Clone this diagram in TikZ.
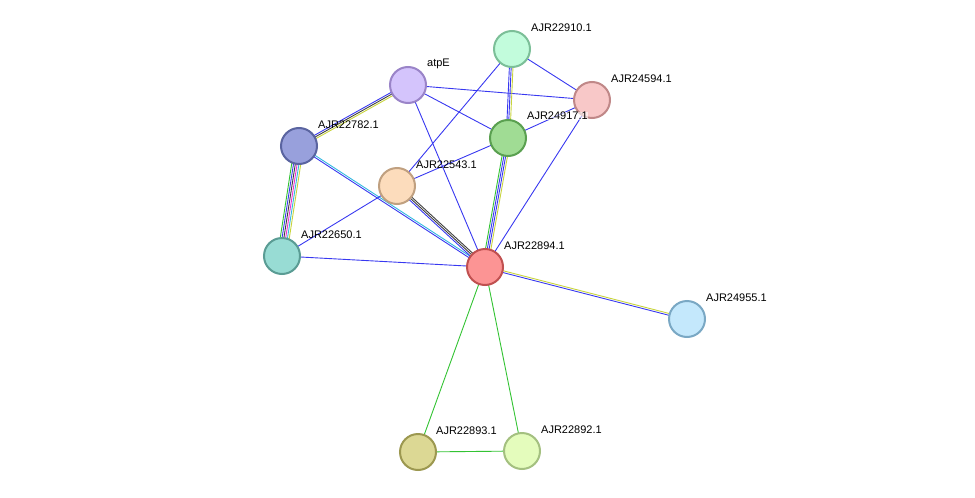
\documentclass[tikz,border=0pt]{standalone}
\usepackage{fontspec}
\setmainfont{Liberation Sans}
\usetikzlibrary{calc,backgrounds}
\definecolor{eb}{HTML}{3838F0}
\definecolor{eg}{HTML}{33C333}
\definecolor{ey}{HTML}{C8D43C}
\definecolor{ek}{HTML}{404040}
\definecolor{em}{HTML}{F030D0}
\definecolor{ec}{HTML}{33B8E0}
\newcommand\mylinks[4]{%
  \foreach \c [count=\i] in {#4}{%
    \pgfmathsetmacro\oo{(\i-(#3+1)/2)*1.8}%
    \draw[\c,line width=0.9pt] ($(#1)!\oo pt!90:(#2)$) -- ($(#2)!\oo pt!-90:(#1)$);}}
\begin{document}
\begin{tikzpicture}[x=1pt,y=-1pt,
  prot/.style={circle,minimum size=36pt,inner sep=0pt,line width=2pt},
  lab/.style={font=\fontsize{11}{13}\selectfont,anchor=west,inner sep=0pt}]
\useasboundingbox (0,0) rectangle (975,498);
\node[prot,fill={rgb,255:red,212;green,196;blue,252},draw={rgb,255:red,154;green,132;blue,200}] (atpE) at (408,85) {};
\node[prot,fill={rgb,255:red,194;green,252;blue,220},draw={rgb,255:red,124;green,191;blue,152}] (n910) at (512,49) {};
\node[prot,fill={rgb,255:red,248;green,200;blue,200},draw={rgb,255:red,192;green,136;blue,136}] (n594) at (592,100) {};
\node[prot,fill={rgb,255:red,160;green,220;blue,148},draw={rgb,255:red,90;green,160;blue,80}] (n917) at (508,138) {};
\node[prot,fill={rgb,255:red,152;green,160;blue,220},draw={rgb,255:red,90;green,100;blue,160}] (n782) at (299,146) {};
\node[prot,fill={rgb,255:red,252;green,220;blue,188},draw={rgb,255:red,192;green,160;blue,128}] (n543) at (397,186) {};
\node[prot,fill={rgb,255:red,152;green,220;blue,212},draw={rgb,255:red,90;green,156;blue,148}] (n650) at (282,256) {};
\node[prot,fill={rgb,255:red,252;green,148;blue,148},draw={rgb,255:red,192;green,80;blue,80}] (n894) at (485,267) {};
\node[prot,fill={rgb,255:red,196;green,232;blue,252},draw={rgb,255:red,122;green,168;blue,196}] (n955) at (687,319) {};
\node[prot,fill={rgb,255:red,220;green,216;blue,148},draw={rgb,255:red,156;green,152;blue,80}] (n893) at (418,452) {};
\node[prot,fill={rgb,255:red,228;green,252;blue,188},draw={rgb,255:red,164;green,192;blue,128}] (n892) at (522,451) {};
\begin{scope}[on background layer]
\mylinks{atpE}{n782}{3}{eb,ek,ey}
\mylinks{atpE}{n594}{1}{eb}
\mylinks{atpE}{n917}{1}{eb}
\mylinks{atpE}{n894}{1}{eb}
\mylinks{n910}{n594}{1}{eb}
\mylinks{n910}{n543}{1}{eb}
\mylinks{n910}{n917}{3}{eb,eb,ey}
\mylinks{n917}{n594}{1}{eb}
\mylinks{n917}{n543}{1}{eb}
\mylinks{n917}{n894}{4}{eg,eb,eb,ey}
\mylinks{n594}{n894}{1}{eb}
\mylinks{n782}{n650}{6}{eg,eb,ek,em,ec,ey}
\mylinks{n782}{n894}{2}{eb,ec}
\mylinks{n543}{n650}{1}{eb}
\mylinks{n543}{n894}{3}{eb,ek,ek}
\mylinks{n650}{n894}{1}{eb}
\mylinks{n894}{n955}{2}{eb,ey}
\mylinks{n894}{n893}{1}{eg}
\mylinks{n894}{n892}{1}{eg}
\mylinks{n893}{n892}{1}{eg}
\end{scope}
\node[lab] at (427,64) {atpE};
\node[lab] at (531,28) {AJR22910.1};
\node[lab] at (611,79) {AJR24594.1};
\node[lab,fill=white,fill opacity=0.6,text opacity=1] at (527,116) {AJR24917.1};
\node[lab] at (318,125) {AJR22782.1};
\node[lab] at (416,165) {AJR22543.1};
\node[lab] at (301,235) {AJR22650.1};
\node[lab] at (504,246) {AJR22894.1};
\node[lab] at (706,298) {AJR24955.1};
\node[lab] at (436,431) {AJR22893.1};
\node[lab] at (541,430) {AJR22892.1};
\end{tikzpicture}
\end{document}
